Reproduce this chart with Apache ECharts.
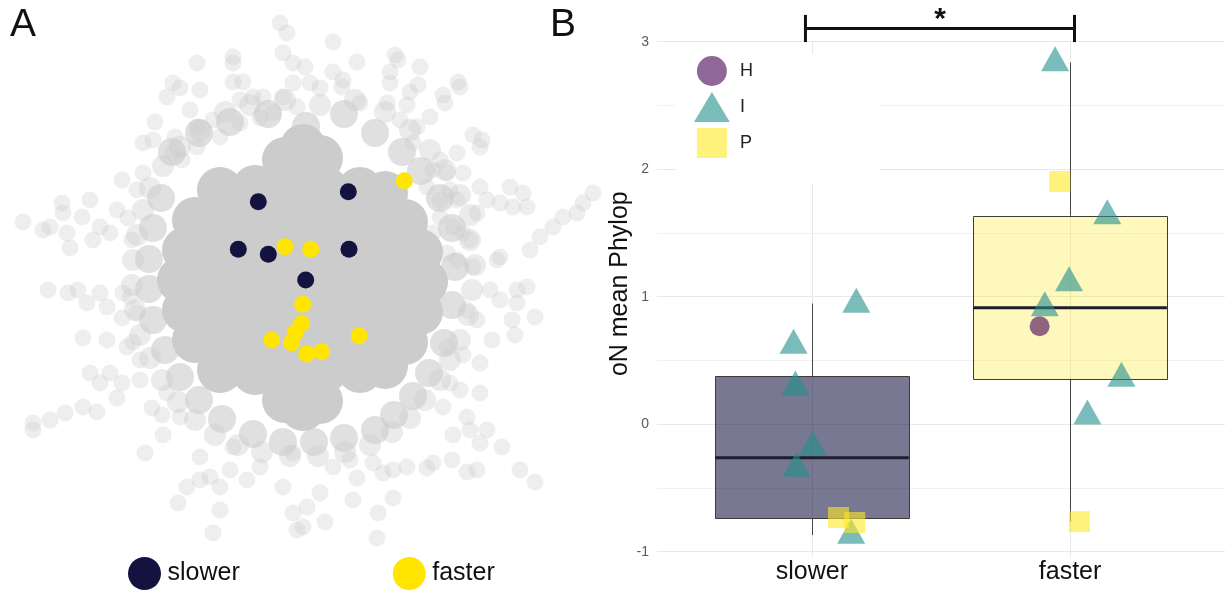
<!DOCTYPE html>
<html><head><meta charset="utf-8">
<script src="https://cdn.jsdelivr.net/npm/echarts@6/dist/echarts.min.js"></script>
<style>html,body{margin:0;padding:0;background:#fff}#c{width:1225px;height:597px}</style>
</head><body><div id="c"></div>
<script>
// ---------------- Panel B data ----------------
const categories = ['slower', 'faster'];
const yTicks = [-1, 0, 1, 2, 3];
// [category position, min, Q1, median, Q3, max]
const boxStats = [
  [1, -0.87, -0.742, -0.263, 0.375, 0.947],
  [2, -0.764, 0.357, 0.913, 1.635, 2.837]
];
const pointsH = [[1.882, 0.768]];
const pointsI = [
  [1.172, 0.940], [0.929, 0.619], [0.936, 0.292], [1.003, -0.180], [0.940, -0.346], [1.152, -0.870],
  [1.942, 2.834], [2.144, 1.635], [1.996, 1.109], [1.902, 0.913], [2.199, 0.361], [2.067, 0.064]
];
const pointsP = [[1.103, -0.732], [1.166, -0.771], [1.960, 1.903], [2.036, -0.764]];
// [x start, x end, tick low, bar level, tick high]
const sigBracket = [[0.975, 2.017, 2.997, 3.104, 3.21]];
const sigLabel = '*';

// ---------------- Panel A data (embedding coordinates) ----------------
const umapSlower = [[-4.17, 6.83], [4.83, 7.83], [-6.17, 2.07], [-3.17, 1.57], [4.9, 2.07], [0.57, -1.0]];
const umapFaster = [[10.43, 8.93], [-1.5, 2.33], [1.07, 2.07], [0.27, -3.43], [0.17, -5.33], [-0.5, -6.27],
  [-0.83, -7.27], [-2.83, -7.0], [5.9, -6.57], [0.67, -8.4], [2.17, -8.17]];
const umapBackgroundCore = [
  [-1.5, 11], [2, 11.2], [0.3, 12.3],
  [-8, 8], [-4.5, 8.2], [-1, 8], [2.5, 8.1], [6, 8], [8.5, 7.6],
  [-10.5, 5], [-7, 5.1], [-3.5, 5], [0, 5.2], [3.5, 5], [7, 5.1], [10.5, 4.8],
  [-11.5, 2], [-8, 2.1], [-4.5, 2], [-1, 2], [2.5, 2.1], [6, 2], [9.5, 2], [12, 1.8],
  [-12, -1], [-8.5, -1], [-5, -1.1], [-1.5, -1], [2, -1], [5.5, -1], [9, -1], [12.5, -1.2],
  [-11.5, -4], [-8, -4], [-4.5, -4.1], [-1, -4], [2.5, -4], [6, -4], [9.5, -4], [12, -4.2],
  [-10.5, -7], [-7, -7], [-3.5, -7.1], [0, -7], [3.5, -7], [7, -7], [10.5, -7.2],
  [-8, -10], [-4.5, -10.2], [-1, -10], [2.5, -10], [6, -10], [8.5, -9.6],
  [-1.5, -13], [2, -13.1], [0.3, -13.8]
];
const umapBackgroundEdge = [
  [-12.8, 11.8], [-10.1, 13.7], [-7.0, 14.8], [-3.2, 15.6], [0.6, 14.4], [4.4, 15.6], [7.5, 13.7],
  [10.2, 11.8], [12.1, 9.9], [14.0, 7.2], [15.2, 4.2], [15.5, 0.3], [15.2, -3.5], [14.4, -7.3],
  [12.9, -10.3], [11.3, -12.6], [9.4, -14.5], [7.5, -16.0], [4.4, -16.8], [1.4, -17.2], [-1.7, -17.2],
  [-4.7, -16.4], [-7.8, -14.9], [-10.1, -13.0], [-12.0, -10.7], [-13.5, -8.0], [-14.7, -5.0],
  [-15.1, -1.9], [-15.1, 1.1], [-14.7, 4.2], [-13.9, 7.2]
];
const umapBackgroundBand = [
  [-5, 16.5], [-1.5, 17], [2, 16.5], [5.5, 17], [8.5, 15.8], [-7.5, 15.8],
  [11, 14], [13, 12], [14.5, 10], [16, 7.5], [17, 5.5],
  [17, 3], [17.5, 0.5], [17.2, -2], [16.8, -4.5], [16, -7],
  [15, -9], [14, -11], [12.5, -13], [11, -14.8], [9.2, -16.2],
  [7, -17.5], [4.5, -18.2], [1.8, -18.6], [-1, -18.6], [-3.8, -18.2], [-6.2, -17.5],
  [-8.5, -16.5], [-10.5, -15], [-12.2, -13.2], [-13.8, -11], [-15, -8.8],
  [-16, -6.5], [-16.5, -4], [-16.8, -1.5], [-16.7, 1], [-16.3, 3.5], [-15.7, 6],
  [-15, 8.2], [-13.7, 10.4], [-12, 12.3], [-10, 14]
];
const umapBackgroundOuter = [
  // upper left
  [-27.7, 4.8], [-25.7, 4.0], [-25.0, 4.3], [-23.8, 6.7], [-23.7, 5.7], [-23.3, 3.7], [-23.0, 2.2],
  [-21.8, 5.3], [-21.0, 7.0], [-20.7, 3.0], [-20.0, 4.3], [-19.0, 3.7], [-18.3, 6.0], [-17.8, 9.0],
  [-17.2, 5.2], [-16.8, 3.0], [-16.3, 8.0], [-15.7, 12.7], [-15.7, 9.7], [-14.7, 13.0], [-14.5, 14.8],
  [-13.3, 17.3], [-12.7, 18.7], [-12.0, 18.2], [-12.5, 13.3], [-12.7, 11.7], [-11.8, 11.0], [-11.0, 16.0],
  [-10.3, 20.7], [-10.0, 18.0], [-10.3, 14.3], [-10.3, 12.3], [-8.7, 15.0], [-8.0, 13.3], [-6.7, 21.3],
  [-6.7, 20.7], [-6.7, 18.8], [-5.7, 18.8], [-6.0, 17.0], [-4.7, 17.3], [-3.7, 17.3], [-6.0, 14.7],
  [-4.0, 15.2], [-2.0, 24.7], [-1.3, 23.7], [-1.7, 21.7], [-0.7, 20.7], [-1.7, 17.3], [-0.7, 18.7],
  [-0.3, 16.3], [-2.7, 15.7],
  // upper right
  [3.3, 22.8], [5.7, 20.8], [3.3, 19.8], [0.5, 20.3], [1.0, 18.7], [2.0, 18.2], [4.2, 18.3], [4.3, 19.0],
  [9.5, 21.5], [9.8, 21.0], [9.0, 19.8], [9.0, 18.7], [12.0, 20.3], [11.8, 18.5], [11.0, 17.8],
  [10.7, 16.5], [8.7, 16.7], [6.0, 16.7], [14.3, 17.5], [14.5, 16.7], [15.8, 18.8], [16.0, 18.3],
  [13.0, 15.3], [11.7, 14.3], [10.0, 15.0], [11.3, 12.7], [17.3, 13.5], [18.2, 13.0], [18.0, 12.3],
  [15.7, 11.7], [14.0, 11.0], [13.3, 10.0], [14.7, 9.7], [16.3, 9.7], [12.7, 8.3], [15.0, 8.0],
  [15.7, 7.0], [14.0, 7.0], [18.0, 8.3], [18.7, 7.0], [20.0, 6.7], [21.0, 8.3], [22.3, 7.7], [21.3, 6.3],
  [22.7, 6.3], [17.7, 5.7], [16.3, 3.7], [17.0, 3.0], [15.3, 4.3], [14.0, 5.3], [20.0, 1.3], [19.7, 1.0],
  [23.0, 2.0], [24.0, 3.3], [25.3, 4.3], [26.3, 5.3], [27.7, 5.7], [28.3, 6.7], [29.3, 7.7], [17.3, 0.3],
  [15.7, 1.0], [14.7, 1.7], [13.3, 3.7],
  // lower left
  [-25.2, -2.0], [-23.2, -2.3], [-22.2, -2.0], [-21.3, -3.3], [-20.0, -2.3], [-19.3, -3.7], [-17.7, -2.3],
  [-17.0, -2.7], [-17.8, -4.8], [-16.3, -4.3], [-21.7, -6.8], [-19.3, -7.0], [-17.3, -7.7], [-16.7, -7.2],
  [-16.0, -9.0], [-21.0, -10.3], [-20.0, -11.3], [-19.0, -10.3], [-17.8, -11.3], [-18.3, -12.8],
  [-16.0, -11.0], [-26.7, -16.0], [-26.7, -15.3], [-25.0, -15.0], [-23.5, -14.3], [-21.7, -13.7],
  [-20.3, -14.2], [-14.8, -13.8], [-13.8, -14.5], [-13.7, -16.5], [-15.5, -18.3], [-13.3, -12.3],
  [-12.0, -14.7], [-10.0, -18.7], [-9.0, -20.7], [-10.0, -21.0], [-11.3, -21.7], [-12.2, -23.3],
  [-8.0, -21.7], [-8.0, -24.0], [-8.7, -26.3], [-7.0, -20.0], [-5.3, -21.0], [-4.0, -19.7], [-6.7, -17.7],
  [-1.7, -21.7], [-0.7, -24.3], [-0.3, -26.0], [-0.7, -18.3],
  // lower right
  [19.0, -2.0], [20.0, -3.0], [21.7, -2.0], [22.7, -1.7], [21.7, -3.3], [23.5, -4.7], [21.2, -5.0],
  [21.5, -6.5], [19.2, -7.0], [17.7, -5.0], [16.7, -4.0], [16.3, -8.5], [18.0, -9.3], [14.7, -7.7],
  [15.0, -11.3], [16.0, -12.0], [18.0, -12.3], [14.3, -13.7], [16.7, -14.7], [15.3, -16.5], [17.0, -16.0],
  [18.7, -16.0], [18.0, -17.3], [20.2, -17.7], [22.0, -20.0], [23.5, -21.2], [16.7, -20.2], [17.7, -20.0],
  [15.2, -19.0], [13.3, -19.3], [12.7, -19.8], [10.7, -19.7], [9.3, -20.0], [8.3, -20.3], [7.3, -19.3],
  [5.7, -20.8], [9.3, -22.8], [7.8, -24.3], [7.7, -26.8], [5.3, -23.0], [2.5, -25.2], [0.7, -23.7],
  [0.3, -25.7], [2.0, -22.3], [3.3, -19.7], [5.0, -19.0]
];

// ---------------- styles ----------------
const NAVY = '#14133f';
const YELLOW = '#ffe500';
const boxFills = ['rgba(20,18,64,0.57)', 'rgba(253,231,37,0.30)'];
const boxHalfWidth = 0.375;
const FONT = 'Liberation Sans, Arial, sans-serif';

const chart = echarts.init(document.getElementById('c'), null, {renderer: 'canvas'});

function renderBox(params, api) {
  const x = api.value(0);
  const mn = api.value(1), q1 = api.value(2), md = api.value(3), q3 = api.value(4), mx = api.value(5);
  const pMax = api.coord([x, mx]), pQ3 = api.coord([x, q3]);
  const pQ1 = api.coord([x, q1]), pMin = api.coord([x, mn]);
  const tl = api.coord([x - boxHalfWidth, q3]), br = api.coord([x + boxHalfWidth, q1]);
  const pMd = api.coord([x, md]);
  const cx = Math.round(pMax[0]) + 0.5;
  return {
    type: 'group',
    children: [
      {type: 'line', shape: {x1: cx, y1: pMax[1], x2: cx, y2: pQ3[1]}, style: {stroke: '#454545', lineWidth: 1}},
      {type: 'line', shape: {x1: cx, y1: pQ1[1], x2: cx, y2: pMin[1]}, style: {stroke: '#454545', lineWidth: 1}},
      {type: 'rect', shape: {x: Math.round(tl[0]) + 0.5, y: Math.round(tl[1]) + 0.5,
        width: Math.round(br[0] - tl[0]), height: Math.round(br[1] - tl[1])},
        style: {fill: boxFills[params.dataIndex], stroke: '#3c3c3c', lineWidth: 1}},
      {type: 'line', shape: {x1: tl[0], y1: pMd[1], x2: br[0], y2: pMd[1]}, style: {stroke: '#1d1d2b', lineWidth: 3}}
    ]
  };
}

function renderVGrid(params, api) {
  const x = api.value(0);
  const a = api.coord([x, yTicks[0] - 0.04]);
  const b = api.coord([x, yTicks[yTicks.length - 1]]);
  const px = Math.round(a[0]) + 0.5;
  return {type: 'line', shape: {x1: px, y1: a[1], x2: px, y2: b[1]}, style: {stroke: '#e8e8e8', lineWidth: 1}};
}

function renderSig(params, api) {
  const x1 = api.value(0), x2 = api.value(1), lo = api.value(2), bar = api.value(3), hi = api.value(4);
  const pL = api.coord([x1, bar]), pR = api.coord([x2, bar]);
  const yLo = api.coord([x1, lo])[1], yHi = api.coord([x1, hi])[1];
  const st = {stroke: '#111', lineWidth: 3};
  return {
    type: 'group',
    children: [
      {type: 'line', shape: {x1: pL[0], y1: pL[1], x2: pR[0], y2: pR[1]}, style: st},
      {type: 'line', shape: {x1: pL[0], y1: yLo, x2: pL[0], y2: yHi}, style: st},
      {type: 'line', shape: {x1: pR[0], y1: yLo, x2: pR[0], y2: yHi}, style: st},
      {type: 'text', style: {text: sigLabel, x: (pL[0] + pR[0]) / 2, y: pL[1] - 9, align: 'center',
        verticalAlign: 'middle', fontSize: 30, fontWeight: 'bold', fontFamily: FONT, fill: '#111'}}
    ]
  };
}

const option = {
  animation: false,
  backgroundColor: '#fff',
  textStyle: {fontFamily: FONT},
  title: [
    {text: 'A', left: 5, top: 1, padding: 5, textStyle: {fontSize: 39, fontWeight: 'normal', color: '#111', fontFamily: FONT}},
    {text: 'B', left: 545, top: 1, padding: 5, textStyle: {fontSize: 39, fontWeight: 'normal', color: '#111', fontFamily: FONT}}
  ],
  legend: [
    {
      data: ['slower', 'faster'], icon: 'circle', orient: 'horizontal', left: 128, top: 557,
      itemWidth: 36, itemHeight: 33, itemGap: 153, padding: 0, selectedMode: false,
      textStyle: {fontSize: 25, color: '#111', fontFamily: FONT}
    },
    {
      data: [
        {name: 'H', icon: 'circle'},
        {name: 'I', icon: 'path://M18.5,0L37,31L0,31Z'},
        {name: 'P', icon: 'path://M0,0L28,0L28,28L0,28Z'}
      ],
      symbolKeepAspect: true,
      orient: 'vertical', left: 676, top: 54, itemWidth: 46, itemHeight: 30, itemGap: 6,
      backgroundColor: '#fff', padding: [2, 127, 25, 18], selectedMode: false,
      textStyle: {fontSize: 18, color: '#222', fontFamily: FONT}
    }
  ],
  grid: [
    {left: 0, top: 0, width: 600, height: 540},
    {left: 657, top: 41.7, width: 572, height: 510}
  ],
  xAxis: [
    {gridIndex: 0, type: 'value', min: -30, max: 30, show: false},
    {
      gridIndex: 1, type: 'value', min: 0.4, max: 2.6,
      axisLine: {show: false}, axisTick: {show: false}, splitLine: {show: false},
      axisLabel: {
        customValues: categories.map((c, i) => i + 1),
        formatter: v => (Number.isInteger(v) && categories[v - 1]) ? categories[v - 1] : '',
        fontSize: 25, color: '#111', margin: 8, fontFamily: FONT
      }
    }
  ],
  yAxis: [
    {gridIndex: 0, type: 'value', min: -27, max: 27, show: false},
    {
      gridIndex: 1, type: 'value', min: yTicks[0], max: yTicks[yTicks.length - 1], interval: 1,
      name: 'oN mean Phylop', nameLocation: 'middle', nameGap: 24, nameRotate: 90,
      nameTextStyle: {fontSize: 25, color: '#111', fontFamily: FONT, padding: [0, 0, 0, 26]},
      axisLine: {show: false}, axisTick: {show: false},
      axisLabel: {fontSize: 14, color: '#5a5a5a', margin: 8, fontFamily: FONT},
      splitLine: {show: true, lineStyle: {color: '#e8e8e8', width: 1}},
      minorTick: {show: false, splitNumber: 2},
      minorSplitLine: {show: true, lineStyle: {color: '#f1f1f1', width: 1}}
    }
  ],
  series: [
    // Panel A
    {name: 'bgCore', type: 'scatter', xAxisIndex: 0, yAxisIndex: 0, data: umapBackgroundCore,
      symbolSize: 46, itemStyle: {color: '#cccccc', opacity: 1}, silent: true, z: 1},
    {name: 'bgEdge', type: 'scatter', xAxisIndex: 0, yAxisIndex: 0, data: umapBackgroundEdge,
      symbolSize: 28, itemStyle: {color: 'rgba(204,204,204,0.6)', opacity: 1}, silent: true, z: 1},
    {name: 'bgBand', type: 'scatter', xAxisIndex: 0, yAxisIndex: 0, data: umapBackgroundBand,
      symbolSize: 22, itemStyle: {color: 'rgba(204,204,204,0.4)', opacity: 1}, silent: true, z: 1},
    {name: 'bgOuter', type: 'scatter', xAxisIndex: 0, yAxisIndex: 0, data: umapBackgroundOuter,
      symbolSize: 17, itemStyle: {color: 'rgba(204,204,204,0.33)', opacity: 1}, silent: true, z: 1},
    {name: 'slower', type: 'scatter', xAxisIndex: 0, yAxisIndex: 0, data: umapSlower,
      symbolSize: 17, itemStyle: {color: NAVY, opacity: 1}, z: 3},
    {name: 'faster', type: 'scatter', xAxisIndex: 0, yAxisIndex: 0, data: umapFaster,
      symbolSize: 17, itemStyle: {color: YELLOW, opacity: 1}, z: 3},
    // Panel B
    {name: 'vgrid', type: 'custom', xAxisIndex: 1, yAxisIndex: 1, data: categories.map((c, i) => [i + 1]),
      renderItem: renderVGrid, silent: true, clip: false, z: 0},
    {name: 'box', type: 'custom', xAxisIndex: 1, yAxisIndex: 1, data: boxStats,
      encode: {x: 0, y: [1, 2, 3, 4, 5]}, renderItem: renderBox, silent: true, z: 2},
    {name: 'H', type: 'scatter', xAxisIndex: 1, yAxisIndex: 1, data: pointsH, symbol: 'circle',
      symbolSize: 20, itemStyle: {color: 'rgba(68,1,84,0.6)', opacity: 1}, z: 3},
    {name: 'I', type: 'scatter', xAxisIndex: 1, yAxisIndex: 1, data: pointsI, symbol: 'triangle',
      symbolSize: [28, 25], symbolOffset: [0, -4], itemStyle: {color: 'rgba(33,144,140,0.6)', opacity: 1}, z: 3},
    {name: 'P', type: 'scatter', xAxisIndex: 1, yAxisIndex: 1, data: pointsP, symbol: 'rect',
      symbolSize: 21, itemStyle: {color: 'rgba(253,231,37,0.6)', opacity: 1}, z: 3},
    {name: 'sig', type: 'custom', xAxisIndex: 1, yAxisIndex: 1, data: sigBracket,
      encode: {x: [0, 1], y: [2, 3, 4]}, renderItem: renderSig, silent: true, clip: false, z: 5}
  ]
};
chart.setOption(option);
</script>
</body></html>
